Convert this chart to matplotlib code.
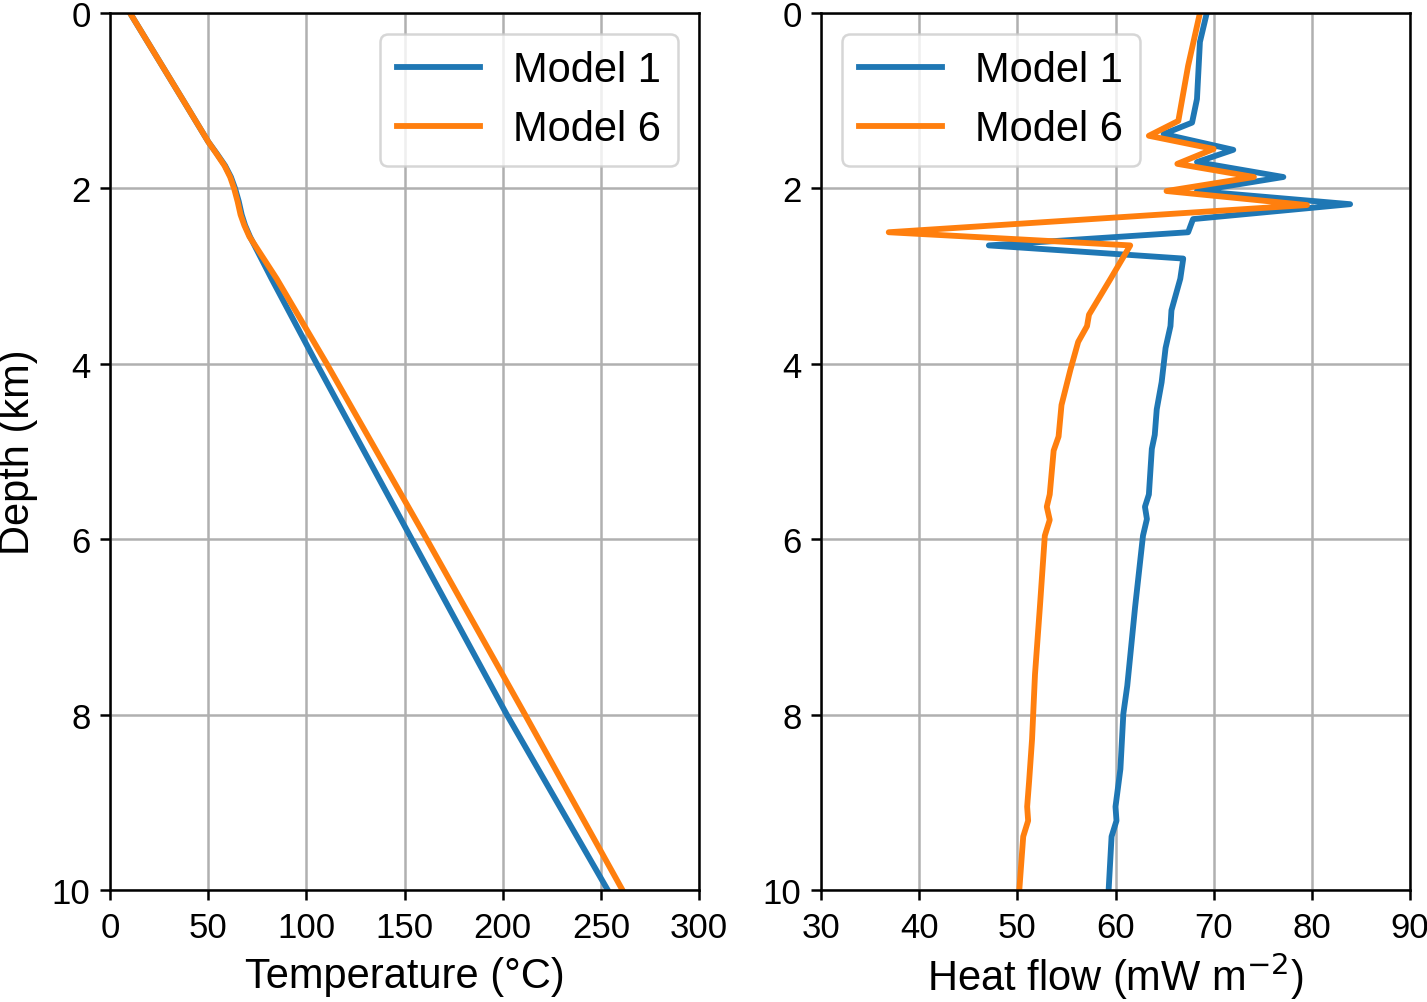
import matplotlib
matplotlib.use("Agg")
import matplotlib.pyplot as plt
import numpy as np

# ---- Data ----
depth_T = [0.0, 0.5, 1.0, 1.47, 1.6, 1.74, 1.87, 2.0, 2.15, 2.3, 2.42, 2.55, 3.03, 4.0, 6.0, 8.0, 10.0]
temp_m1 = [10.2, 23.8, 37.4, 50.1, 54.3, 58.6, 61.6, 63.7, 65.6, 67.1, 68.8, 71.3, 82.3, 105.3, 153.7, 202.1, 253.5]
temp_m6 = [10.2, 23.8, 37.4, 50.1, 54.1, 58.3, 61.2, 63.2, 65.0, 66.5, 68.4, 71.0, 84.9, 110.4, 161.3, 211.4, 261.0]

depth_hf1 = [0.0, 0.33, 0.98, 1.25, 1.38, 1.56, 1.70, 1.87, 2.03, 2.18, 2.35, 2.50, 2.65,
             2.80, 3.03, 3.39, 3.57, 3.82, 4.21, 4.52, 4.81, 4.97, 5.49, 5.63, 5.77, 5.96,
             6.77, 7.67, 7.99, 8.62, 9.05, 9.21, 9.39, 10.0]
hf_m1 = [69.3, 68.6, 68.3, 67.8, 64.9, 72.0, 68.3, 77.1, 68.3, 83.9, 67.9, 67.4, 47.1,
         66.9, 66.6, 65.7, 65.6, 65.1, 64.7, 64.2, 64.0, 63.7, 63.4, 63.0, 63.2, 62.8,
         62.0, 61.2, 60.8, 60.5, 60.0, 60.1, 59.6, 59.3]

depth_hf6 = [0.0, 0.6, 1.23, 1.40, 1.55, 1.72, 1.87, 2.03, 2.19, 2.50, 2.65, 3.03, 3.44,
             3.57, 3.75, 4.07, 4.47, 4.83, 4.99, 5.49, 5.63, 5.78, 5.96, 6.77, 7.54, 8.28,
             8.76, 9.05, 9.21, 9.39, 10.0]
hf_m6 = [68.6, 67.4, 66.4, 63.4, 70.0, 66.3, 74.1, 65.2, 79.5, 36.9, 61.5, 59.5, 57.3,
         57.1, 56.2, 55.4, 54.5, 54.2, 53.7, 53.3, 53.0, 53.3, 52.8, 52.3, 51.8, 51.5,
         51.2, 51.0, 51.1, 50.6, 50.2]

labels = ["Model 1", "Model 6"]
colors = ["#1f77b4", "#ff7f0e"]

# ---- Style ----
plt.rcParams['font.family'] = ['Liberation Sans', 'DejaVu Sans']
plt.rcParams['font.size'] = 25
plt.rcParams['axes.linewidth'] = 1.8
plt.rcParams['xtick.major.size'] = 7
plt.rcParams['ytick.major.size'] = 7
plt.rcParams['xtick.major.width'] = 1.8
plt.rcParams['ytick.major.width'] = 1.8
plt.rcParams['xtick.major.pad'] = 8
plt.rcParams['ytick.major.pad'] = 7

fig = plt.figure(figsize=(14.27, 10.03), dpi=100)
ax1 = fig.add_axes([110/1427, 1-891/1003, (699-110)/1427, (891-14)/1003])
ax2 = fig.add_axes([821/1427, 1-891/1003, (1410-821)/1427, (891-14)/1003])

lw = 4.2
ax1.plot(temp_m1, depth_T, color=colors[0], lw=lw, label=labels[0])
ax1.plot(temp_m6, depth_T, color=colors[1], lw=lw, label=labels[1])
ax2.plot(hf_m1, depth_hf1, color=colors[0], lw=lw, label=labels[0])
ax2.plot(hf_m6, depth_hf6, color=colors[1], lw=lw, label=labels[1])

ax1.set_xlim(0, 300)
ax1.set_ylim(10, 0)
ax1.set_xticks(np.arange(0, 301, 50))
ax1.set_yticks(np.arange(0, 11, 2))
ax2.set_xlim(30, 90)
ax2.set_ylim(10, 0)
ax2.set_xticks(np.arange(30, 91, 10))
ax2.set_yticks(np.arange(0, 11, 2))

for ax in (ax1, ax2):
    ax.grid(True, color='#b0b0b0', lw=1.8)
    ax.set_axisbelow(True)

ax1.set_xlabel("Temperature (°C)", fontsize=30, labelpad=9)
ax1.set_ylabel("Depth (km)", fontsize=30, labelpad=10)
ax2.set_xlabel("Heat flow (mW m$^{-2}$)", fontsize=30, labelpad=4)

leg_kw = dict(fontsize=30, framealpha=0.8, borderpad=0.4, labelspacing=0.45,
              handlelength=2.0, handletextpad=0.8, borderaxespad=0.5)
l1 = ax1.legend(loc='upper right', **leg_kw)
l2 = ax2.legend(loc='upper left', **leg_kw)
for l in (l1, l2):
    l.get_frame().set_linewidth(1.8)

fig.savefig("out.png", dpi=100)
